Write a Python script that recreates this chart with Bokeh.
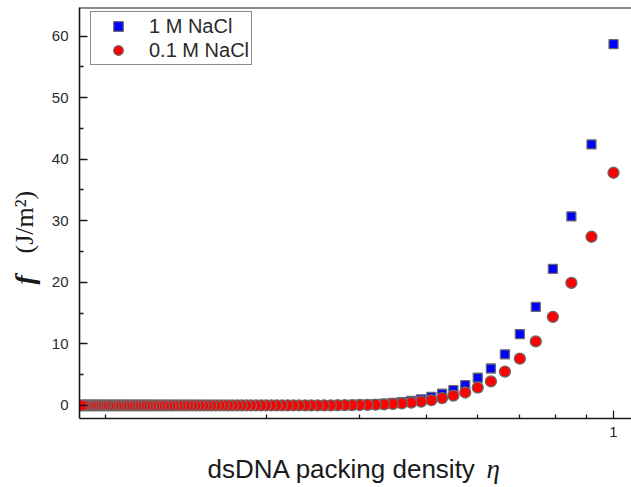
import math
from bokeh.plotting import figure
from bokeh.models import (Range1d, FixedTicker, BasicTickFormatter, Span, Label,
                          Legend, LegendItem)
from bokeh.embed import file_html
from bokeh.resources import INLINE

# packing density eta (x)
eta = [
    1.0000, 0.9091, 0.8333, 0.7692, 0.7143, 0.6667, 0.6250, 0.5882, 0.5556, 0.5263,
    0.5000, 0.4762, 0.4545, 0.4348, 0.4167, 0.4000, 0.3846, 0.3704, 0.3571, 0.3448,
    0.3333, 0.3226, 0.3125, 0.3030, 0.2941, 0.2857, 0.2778, 0.2703, 0.2632, 0.2564,
    0.2500, 0.2439, 0.2381, 0.2326, 0.2273, 0.2222, 0.2174, 0.2128, 0.2083, 0.2041,
    0.2000, 0.1961, 0.1923, 0.1887, 0.1852, 0.1818, 0.1786, 0.1754, 0.1724, 0.1695,
    0.1667, 0.1639, 0.1613, 0.1587, 0.1563, 0.1538, 0.1515, 0.1493, 0.1471, 0.1449,
    0.1429, 0.1408, 0.1389, 0.1370, 0.1351, 0.1333, 0.1316, 0.1299, 0.1282, 0.1266,
    0.1250, 0.1235, 0.1220, 0.1205, 0.1190, 0.1176, 0.1163, 0.1149, 0.1136, 0.1124,
    0.1111, 0.1099, 0.1087, 0.1075, 0.1064, 0.1053, 0.1042, 0.1031, 0.1020, 0.1010,
    0.1000,
]

# f (J/m^2), 1 M NaCl
f_1M = [
    58.7, 42.4, 30.7, 22.2, 16.0, 11.6, 8.3, 6.0, 4.5, 3.3,
    2.5, 1.9, 1.4, 1.0, 0.75, 0.55, 0.40, 0.29, 0.21, 0.15,
    0.11, 0.08, 0.06, 0.045, 0.035, 0.025, 0.02, 0.015, 0.01, 0.01,
    0.0, 0.0, 0.0, 0.0, 0.0, 0.0, 0.0, 0.0, 0.0, 0.0,
    0.0, 0.0, 0.0, 0.0, 0.0, 0.0, 0.0, 0.0, 0.0, 0.0,
    0.0, 0.0, 0.0, 0.0, 0.0, 0.0, 0.0, 0.0, 0.0, 0.0,
    0.0, 0.0, 0.0, 0.0, 0.0, 0.0, 0.0, 0.0, 0.0, 0.0,
    0.0, 0.0, 0.0, 0.0, 0.0, 0.0, 0.0, 0.0, 0.0, 0.0,
    0.0, 0.0, 0.0, 0.0, 0.0, 0.0, 0.0, 0.0, 0.0, 0.0,
    0.0,
]

# f (J/m^2), 0.1 M NaCl
f_01M = [
    37.8, 27.4, 19.9, 14.4, 10.4, 7.6, 5.5, 3.9, 2.9, 2.1,
    1.6, 1.2, 0.85, 0.62, 0.45, 0.33, 0.24, 0.17, 0.12, 0.09,
    0.07, 0.05, 0.04, 0.03, 0.02, 0.015, 0.01, 0.01, 0.005, 0.005,
    0.0, 0.0, 0.0, 0.0, 0.0, 0.0, 0.0, 0.0, 0.0, 0.0,
    0.0, 0.0, 0.0, 0.0, 0.0, 0.0, 0.0, 0.0, 0.0, 0.0,
    0.0, 0.0, 0.0, 0.0, 0.0, 0.0, 0.0, 0.0, 0.0, 0.0,
    0.0, 0.0, 0.0, 0.0, 0.0, 0.0, 0.0, 0.0, 0.0, 0.0,
    0.0, 0.0, 0.0, 0.0, 0.0, 0.0, 0.0, 0.0, 0.0, 0.0,
    0.0, 0.0, 0.0, 0.0, 0.0, 0.0, 0.0, 0.0, 0.0, 0.0,
    0.0,
]

series_labels = ["1 M NaCl", "0.1 M NaCl"]
y_ticks = [0, 10, 20, 30, 40, 50, 60]
y_minor = [5, 15, 25, 35, 45, 55]
x_ticks = [1]
x_minor = [0.1111, 0.2222, 0.3333, 0.4444, 0.5556, 0.6667, 0.7778, 0.8889]

Y_TOP = 64.64
p = figure(width=631, height=487, output_backend="svg", toolbar_location=None,
           x_axis_type="log",
           x_range=Range1d(0.0991, 1.081), y_range=Range1d(-2.12, Y_TOP),
           min_border_left=79, min_border_right=0, min_border_top=7,
           min_border_bottom=69)
p.outline_line_color = None
p.grid.visible = False
p.background_fill_color = "white"
p.border_fill_color = "white"

sq = p.scatter(eta, f_1M, marker="square", size=9, fill_color="#0000ff",
               line_color="#6a6a6a", line_width=1.3)
ci = p.scatter(eta, f_01M, marker="circle", size=11, fill_color="#ff0000",
               line_color="#6a6a6a", line_width=1.3)

# axes
for ax in (p.xaxis[0], p.yaxis[0]):
    ax.axis_line_color = "#1a1a1a"
    ax.axis_line_width = 1.6
    ax.major_tick_line_color = "#1a1a1a"
    ax.minor_tick_line_color = "#1a1a1a"
    ax.major_tick_line_width = 1.3
    ax.minor_tick_line_width = 1.3
    ax.major_tick_in = 8
    ax.major_tick_out = 0
    ax.minor_tick_in = 4
    ax.minor_tick_out = 0
    ax.major_label_text_font = "Liberation Sans"
    ax.major_label_text_font_size = "15px"
    ax.major_label_text_color = "#2a2a2a"

p.yaxis[0].ticker = FixedTicker(ticks=y_ticks, minor_ticks=y_minor)
p.yaxis[0].major_label_standoff = 11
p.xaxis[0].ticker = FixedTicker(ticks=x_ticks, minor_ticks=x_minor)
p.xaxis[0].formatter = BasicTickFormatter()
p.xaxis[0].major_label_standoff = 8

# top frame line
p.add_layout(Span(location=Y_TOP, dimension="width", line_color="#1a1a1a",
                  line_width=2))

# axis titles (canvas pixel coordinates); they sit in the side panels so
# that they are not clipped to the frame, spread so the panels stay small
serif = "Liberation Serif"
def add_label(x, y, text, font, size, style="normal", angle=0.0, side="left"):
    p.add_layout(Label(x=x, y=y, x_units="canvas", y_units="canvas", text=text,
                       angle=angle, text_font=font, text_font_size=size,
                       text_font_style=style, text_color="#1a1a1a",
                       text_line_height=1.0,
                       text_baseline="alphabetic", text_align="left"), side)

add_label(24, 284, "f", serif, "28px", "bold italic", math.pi / 2, "below")
add_label(24, 253, "(J/m\u00b2)", serif, "26px", "normal", math.pi / 2, "left")
add_label(207, 468, "dsDNA packing density", "Liberation Sans", "26px",
          side="below")
add_label(486, 468, "\u03b7", serif, "27px", "italic", side="left")

legend = Legend(items=[LegendItem(label=series_labels[0], renderers=[sq]),
                       LegendItem(label=series_labels[1], renderers=[ci])],
                location=(11, 353))
legend.border_line_color = "#1a1a1a"
legend.border_line_width = 1.2
legend.padding = 2
legend.margin = 0
legend.spacing = 0
legend.glyph_width = 50
legend.glyph_height = 24
legend.label_height = 24
legend.label_standoff = 6
legend.label_text_font = "Liberation Sans"
legend.label_text_font_size = "20px"
legend.label_text_color = "#2a2a2a"
legend.background_fill_alpha = 1.0
p.add_layout(legend)

open("out.html", "w").write(file_html(p, INLINE))
